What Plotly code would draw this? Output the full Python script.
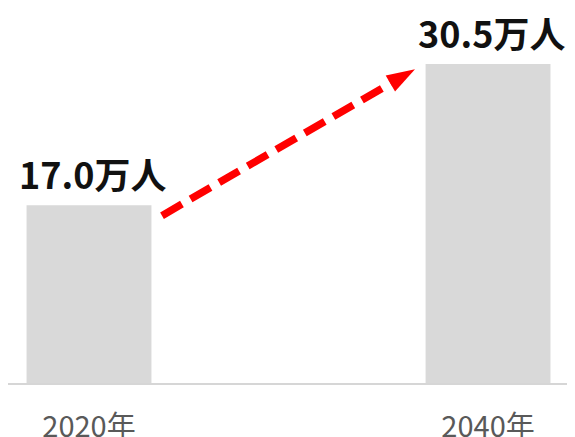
import plotly.graph_objects as go

categories = ["2020年", "2040年"]
values = [17.0, 30.5]
labels = ["17.0万人", "30.5万人"]

xpos = list(range(len(categories)))

fig = go.Figure()
fig.add_trace(go.Bar(
    x=xpos, y=values, marker=dict(color="#D9D9D9", line=dict(width=0)),
    width=0.313, hoverinfo="skip",
))

# dashed trend arrow from top of first bar to top of second bar
ax0 = xpos[0] + 0.183
ay0 = values[0] - 1.0
ax1 = xpos[1] - 0.183
ay1 = values[1] - 0.5
fig.add_trace(go.Scatter(
    x=[ax0, ax1], y=[ay0, ay1], mode="lines+markers",
    line=dict(color="#FF0000", width=7.5, dash="23px,10px"),
    marker=dict(symbol="arrow", size=[0, 30], angleref="previous", color="#FF0000",
                opacity=1, line=dict(width=0)),
    hoverinfo="skip",
))

for xi, v, t in zip(xpos, values, labels):
    fig.add_annotation(x=xi, y=v, text=t, showarrow=False, yanchor="bottom",
                       yshift=4, xshift=3,
                       font=dict(family="Noto Sans CJK JP", size=36, color="#111111", weight="bold"))

fig.update_layout(
    width=575, height=437, margin=dict(l=0, r=0, t=0, b=59),
    paper_bgcolor="white", plot_bgcolor="white", showlegend=False,
    xaxis=dict(range=[-0.203, 1.238], tickvals=xpos, ticktext=categories,
               showgrid=False, zeroline=False, showline=True, linecolor="#D6D6D6", linewidth=2,
               ticks="", ticklabelstandoff=17,
               tickfont=dict(family="Noto Sans CJK JP", size=29, color="#595959")),
    yaxis=dict(range=[0, 35.85], visible=False, showgrid=False, zeroline=False),
)

fig.write_html("out.html")
